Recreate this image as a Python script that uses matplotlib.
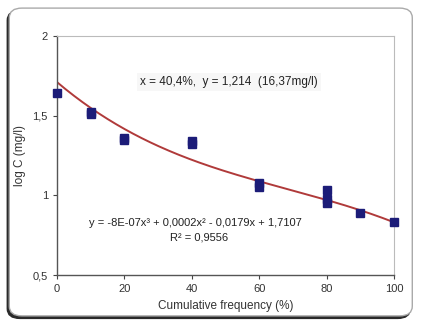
import numpy as np
import matplotlib
matplotlib.use("Agg")
import matplotlib.pyplot as plt
from matplotlib.patches import FancyBboxPatch

# Data
freq = [0, 10, 10, 20, 20, 40, 40, 60, 60, 80, 80, 80, 90, 100]
logc = [1.64, 1.51, 1.52, 1.35, 1.36, 1.34, 1.32, 1.08, 1.05, 1.035, 0.975, 0.95, 0.89, 0.835]
# cubic trendline coefficients (highest power first), as shown rounded on the chart
trend_coef = [-8.6e-07, 0.000177, -0.0179, 1.7107]
xticks = [0, 20, 40, 60, 80, 100]
yticks = [0.5, 1.0, 1.5, 2.0]
yticklabels = ["0,5", "1", "1,5", "2"]
annot_text = "x = 40,4%,  y = 1,214  (16,37mg/l)"
eq_text = "y = -8E-07x³ + 0,0002x² - 0,0179x + 1,7107"
r2_text = "R² = 0,9556"

plt.rcParams['font.family'] = ['Liberation Sans', 'DejaVu Sans']

W, H = 4.22, 3.24
fig = plt.figure(figsize=(W, H), dpi=100)
dx, dy = 2.0 / 422, 2.5 / 324
shadow = FancyBboxPatch((0.022 - dx, 0.025 - dy), 0.955, 0.95,
                        boxstyle="round,pad=0,rounding_size=0.03",
                        transform=fig.transFigure, facecolor="#2a2a2a", edgecolor="#2a2a2a",
                        linewidth=1.0, zorder=-3)
frame = FancyBboxPatch((0.022, 0.025), 0.955, 0.95, boxstyle="round,pad=0,rounding_size=0.03",
                       transform=fig.transFigure, facecolor="white", edgecolor="#aaaaaa",
                       linewidth=1.0, zorder=-2)
fig.patches.append(shadow)
fig.patches.append(frame)

ax = fig.add_axes([0.135, 0.151, 0.799, 0.738])
ax.set_xlim(0, 100)
ax.set_ylim(0.5, 2.0)

xs = np.linspace(0, 100, 200)
ax.plot(xs, np.polyval(trend_coef, xs), color="#b03a3a", linewidth=1.4, zorder=2)
ax.plot(freq, logc, linestyle="none", marker="s", markersize=5.5,
        color="#1c1c78", markeredgecolor="#1c1c78", zorder=3, clip_on=False)

ax.set_xticks(xticks)
ax.set_xticklabels([str(t) for t in xticks])
ax.set_yticks(yticks)
ax.set_yticklabels(yticklabels)
ax.tick_params(labelsize=8, length=3, color="#444444", labelcolor="#333333")
for s in ["left", "bottom"]:
    ax.spines[s].set_color("#555555")
    ax.spines[s].set_linewidth(1.0)
for s in ["top", "right"]:
    ax.spines[s].set_color("#bbbbbb")
    ax.spines[s].set_linewidth(0.8)

ax.set_xlabel("Cumulative frequency (%)", fontsize=8.5, color="#333333", labelpad=4)
ax.set_ylabel("log C (mg/l)", fontsize=8.5, color="#333333", labelpad=5)

ax.text(51, 1.71, annot_text, fontsize=8.5, ha="center", va="center", color="#222222",
        bbox=dict(boxstyle="square,pad=0.25", facecolor="#f7f7f7", edgecolor="none"))
ax.text(41, 0.825, eq_text, fontsize=8, ha="center", va="center", color="#222222")
ax.text(42, 0.735, r2_text, fontsize=8, ha="center", va="center", color="#222222")

fig.savefig("out.png", dpi=100)
